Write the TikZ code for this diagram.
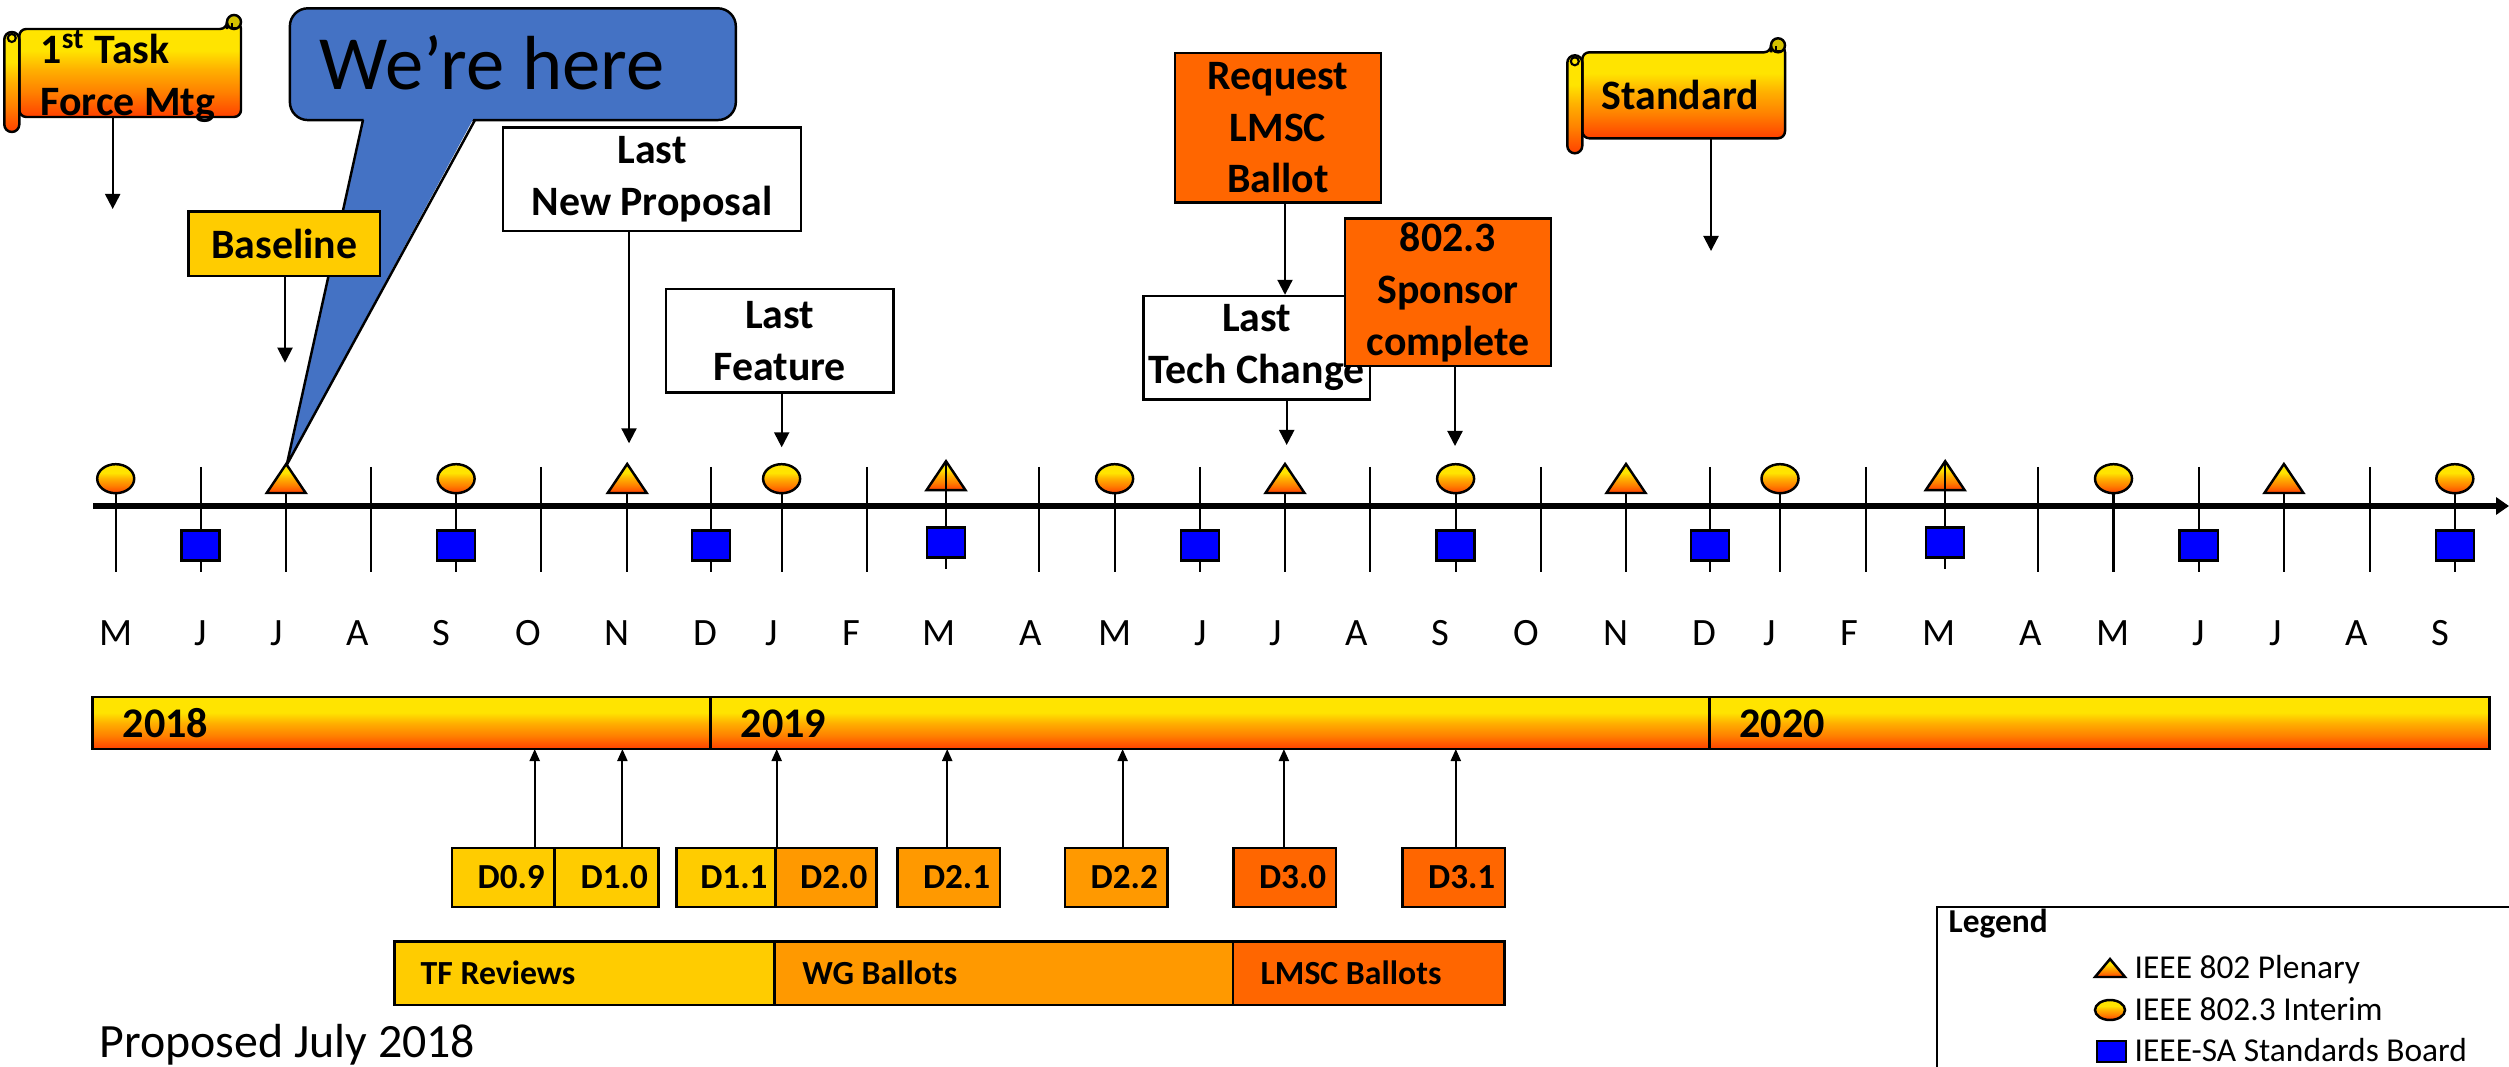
\documentclass[tikz,border=0pt]{standalone}
\usepackage{fontspec}
\setmainfont{Carlito}
\usetikzlibrary{arrows.meta}
\definecolor{gYel}{HTML}{FFE400}
\definecolor{gAmb}{HTML}{FFB000}
\definecolor{gOr}{HTML}{FF8000}
\definecolor{gRed}{HTML}{FF4000}
\definecolor{curlY}{HTML}{D4C200}
\definecolor{tfY}{HTML}{FFCC00}
\definecolor{wgO}{HTML}{FF9900}
\definecolor{lmO}{HTML}{FF6600}
\definecolor{callB}{HTML}{4472C4}
\definecolor{sabB}{HTML}{0000FF}
\pgfdeclareverticalshading{gold}{100bp}{color(0bp)=(gRed); color(25bp)=(gRed); color(38bp)=(gOr); color(50bp)=(gAmb); color(60bp)=(gYel); color(75bp)=(gYel); color(100bp)=(gYel)}
\newcommand\lblfnt{\fontsize{11.9pt}{14.7pt}\selectfont\bfseries}
\newcommand\herefnt{\fontsize{21.8pt}{26pt}\selectfont}
\newcommand\monfnt{\fontsize{11pt}{13pt}\selectfont}
\newcommand\yrfnt{\fontsize{12pt}{14pt}\selectfont\bfseries}
\newcommand\dfnt{\fontsize{10pt}{12pt}\selectfont\bfseries}
\newcommand\phfnt{\fontsize{9.6pt}{11pt}\selectfont\bfseries}
\newcommand\legfnt{\fontsize{9.5pt}{11pt}\selectfont}
\newcommand\propfnt{\fontsize{13.6pt}{16pt}\selectfont}
\newcommand\tlscroll[4]{%
  \path[shade, shading=gold, draw, line width=0.7pt, rounded corners=0.07cm]
    ({#1+15},#2) -- ({#3-14},#2) -- ({#3-14},{#2-7}) -- (#3,{#2-7}) -- (#3,#4) -- ({#1+15},#4) -- cycle;
  \draw[fill=curlY, line width=0.7pt] ({#3-7},{#2-7}) circle [radius=0.07cm];
  \draw[line width=0.5pt] ({#3-9},{#2-6}) -- ({#3-9},{#2-1}) -- ({#3-3},{#2-1});
  \draw[shade, shading=gold, line width=0.7pt, rounded corners=0.075cm] (#1,{#2+3}) rectangle ({#1+15},{#4+15});
  \draw[line width=0.6pt] ({#1+7.5},{#2+9}) circle [radius=0.04cm];
}
\begin{document}
\begin{tikzpicture}[x=0.01cm,y=-0.01cm,
  box/.style={draw, line width=0.7pt, inner sep=0pt, align=center, font=\lblfnt},
  dbox/.style={draw, line width=0.7pt, inner sep=0pt, minimum height=0.59cm, font=\dfnt},
  phase/.style={draw, line width=0.7pt, inner sep=0pt, minimum height=0.633cm},
  yearseg/.style={draw, line width=0.8pt, shade, shading=gold, inner sep=0pt, minimum height=0.52cm},
  arr/.style={-{Triangle[length=0.15cm,width=0.15cm]}, line width=0.6pt},
  arrs/.style={-{Triangle[length=0.12cm,width=0.1cm]}, line width=0.6pt},
  tick/.style={line width=0.6pt},
  mk/.style={line width=0.7pt},
  mon/.style={font=\monfnt, inner sep=0pt, anchor=base},
  txt/.style={inner sep=0pt, anchor=base west},
  plen/.pic={\draw[mk, shade, shading=gold] (-19.5,14.5) -- (0,-14.5) -- (19.5,14.5) -- cycle;},
  intr/.pic={\draw[mk, shade, shading=gold] (0,0) ellipse [x radius=0.185cm, y radius=0.145cm];},
  sab/.pic={\draw[mk, fill=sabB] (-19,-15) rectangle (19,15);}
]
\useasboundingbox (0,0) rectangle (2509,1067);
\fill[white] (0,0) rectangle (2509,1067);

% ---------- callout ----------
\node[draw, line width=0.7pt, fill=callB, rounded corners=0.18cm, minimum width=4.457cm, minimum height=1.117cm, inner sep=0pt] (callout) at (512.85,64.2) {};
\fill[callB] (364,117.5) -- (286.7,465) -- (474,117.5) -- cycle;
\draw[line width=0.7pt] (363,120) -- (286.7,465) -- (475,120);
\node[txt, font=\herefnt] (here) at (319,90) {We’re here};

% ---------- scrolls ----------
\tlscroll{4.3}{29}{241}{117}
\node[inner sep=0pt, minimum width=2.217cm, minimum height=0.88cm] (s1body) at (130.15,73) {};
\node[inner sep=0pt, anchor=west, align=left, font=\lblfnt] (s1) at (40,76) {1\textsuperscript{st} Task\\Force Mtg};

\tlscroll{1567.3}{52.3}{1785}{138.3}
\node[inner sep=0pt, minimum width=2.023cm, minimum height=0.86cm] (s2body) at (1683.85,95.3) {};
\node[inner sep=0pt, anchor=base, font=\lblfnt] (s2) at (1680.3,110) {Standard};

% ---------- milestone boxes ----------
\node[box, fill=tfY, minimum width=1.917cm, minimum height=0.643cm] (base) at (284.2,243.9) {Baseline};
\node[box, fill=white, minimum width=2.974cm, minimum height=1.037cm] (newprop) at (652,179.2) {Last\\New Proposal};
\node[box, fill=white, minimum width=2.273cm, minimum height=1.034cm] (feature) at (779.7,341) {Last\\Feature};
\node[box, fill=lmO, minimum width=2.057cm, minimum height=1.49cm] (request) at (1277.9,127.8) {Request\\LMSC\\Ballot};
\node[box, fill=white, minimum width=2.267cm, minimum height=1.033cm] (techchg) at (1256.7,347.7) {Last\\Tech Change};
\node[box, fill=lmO, minimum width=2.057cm, minimum height=1.477cm] (sponsor) at (1447.9,292.2) {802.3\\Sponsor\\complete};

% ---------- arrows from milestones ----------
\coordinate (t1) at (112.7,209);
\coordinate (t2) at (285,362.7);
\coordinate (t3) at (629,443.3);
\coordinate (t4) at (781.7,447.3);
\coordinate (t5) at (1285,0);
\coordinate (t6) at (1286.7,445);
\coordinate (t7) at (1455,446);
\coordinate (t8) at (1711,251);
\draw[arr] (s1body.south -| t1) -- (t1);
\draw[arr] (base.south -| t2) -- (t2);
\draw[arr] (newprop.south -| t3) -- (t3);
\draw[arr] (feature.south -| t4) -- (t4);
\draw[arr] (request.south -| t5) -- (techchg.north -| t5);
\draw[arr] (techchg.south -| t6) -- (t6);
\draw[arr] (sponsor.south -| t7) -- (t7);
\draw[arr] (s2body.south -| t8) -- (t8);

% ---------- time axis ----------
\coordinate (axs) at (93,506);
\coordinate (axe) at (2509,506);
\foreach \t in {115.7,200.6,286.2,371.1,456.1,541.1,627.2,711,781.6,867.1,1039,1114.6,1199.8,1285,1369.8,1455.6,1540.8,1626,1709.8,1780,1865.7,2038.2,2113.5,2198.7,2283.9,2369.6,2454.8}
  \draw[tick] (\t,467) -- (\t,572);
\draw[line width=1.56pt, -{Triangle[length=0.13cm,width=0.17cm]}] (axs) -- (axe);
% interim
\foreach \t in {115.7,456.1,781.6,1114.6,1455.6,1780,2113.5,2454.8}
  \pic at (\t,478.7) {intr};
% plenary
\foreach \t in {286.2,627.2,1285,1626,2283.9}
  \pic at (\t,478.5) {plen};
% standards board
\foreach \t in {200.6,456.1,711,1199.8,1455.6,1709.8,2198.7,2454.8}
  \pic at (\t,545.5) {sab};
% March meetings
\foreach \t in {946,1945.2}{
  \pic at (\t,475.7) {plen};
  \draw[tick] (\t,460.7) -- (\t,569);
  \pic at (\t,542.7) {sab};
}
% month letters
\foreach \x/\m [count=\i] in {115.7/M,200.6/J,277/J,357.4/A,441.7/S,527.9/O,616.8/N,705.2/D,771.8/J,851/F,939/M,1031/A,1114.6/M,1200.9/J,1275.6/J,1356.7/A,1440.4/S,1526.7/O,1615.6/N,1704.5/D,1769.7/J,1849.7/F,1939/M,2030.4/A,2113.5/M,2198.7/J,2275.6/J,2356.7/A,2440.8/S}
  \node[mon] (m\i) at (\x,645) {\m};

% ---------- year bar ----------
\node[yearseg, minimum width=6.18cm] (yr18) at (402,723) {};
\node[yearseg, minimum width=9.985cm] (yr19) at (1210.25,723) {};
\node[yearseg, minimum width=7.795cm] (yr20) at (2099.25,723) {};
\node[txt, font=\yrfnt] (y18) at (122,737.3) {2018};
\node[txt, font=\yrfnt] (y19) at (740,737.3) {2019};
\node[txt, font=\yrfnt] (y20) at (1738.7,737.3) {2020};

% ---------- drafts ----------
\node[dbox, fill=tfY, minimum width=1.023cm] (d09) at (503.2,877.5) {\hspace*{0.16cm}D0.9};
\node[dbox, fill=tfY, minimum width=1.039cm] (d10) at (606.3,877.5) {\hspace*{0.16cm}D1.0};
\node[dbox, fill=tfY, minimum width=0.989cm] (d11) at (725.9,877.5) {\hspace*{0.16cm}D1.1};
\node[dbox, fill=wgO, minimum width=1.01cm] (d20) at (825.8,877.5) {\hspace*{0.16cm}D2.0};
\node[dbox, fill=wgO, minimum width=1.024cm] (d21) at (948.6,877.5) {\hspace*{0.16cm}D2.1};
\node[dbox, fill=wgO, minimum width=1.025cm] (d22) at (1116.3,877.5) {\hspace*{0.16cm}D2.2};
\node[dbox, fill=lmO, minimum width=1.024cm] (d30) at (1284.6,877.5) {\hspace*{0.16cm}D3.0};
\node[dbox, fill=lmO, minimum width=1.024cm] (d31) at (1453.7,877.5) {\hspace*{0.16cm}D3.1};
\coordinate (a1) at (534.7,749);
\coordinate (a2) at (622.4,749);
\coordinate (a3) at (776.7,749);
\coordinate (a4) at (947.2,749);
\coordinate (a5) at (1122.6,749);
\coordinate (a6) at (1283.9,749);
\coordinate (a7) at (1455.8,749);
\draw[arrs] (d09.north -| a1) -- (a1);
\draw[arrs] (d10.north -| a2) -- (a2);
\draw[arrs] (d11.north -| a3) -- (a3);
\draw[arrs] (d21.north -| a4) -- (a4);
\draw[arrs] (d22.north -| a5) -- (a5);
\draw[arrs] (d30.north -| a6) -- (a6);
\draw[arrs] (d31.north -| a7) -- (a7);

% ---------- ballot phases ----------
\node[phase, fill=tfY, minimum width=3.799cm] (tf) at (584.65,973.35) {};
\node[phase, fill=wgO, minimum width=4.584cm] (wg) at (1003.8,973.35) {};
\node[phase, fill=lmO, minimum width=2.713cm] (lm) at (1368.65,973.35) {};
\node[txt, font=\phfnt] (tft) at (420,984) {TF Reviews};
\node[txt, font=\phfnt] (wgt) at (801.7,984) {WG Ballots};
\node[txt, font=\phfnt] (lmt) at (1260,984) {LMSC Ballots};

\node[txt, font=\propfnt] (prop) at (99,1057) {Proposed July 2018};

% ---------- legend ----------
\node[draw, line width=0.7pt, anchor=north west, minimum width=6cm, minimum height=2cm, inner sep=0pt] (legend) at (1936,906) {};
\node[txt, font=\legfnt\bfseries] (legt) at (1948,932) {Legend};
\draw[mk, shade, shading=gold] (2095,977) -- (2110,959) -- (2125,977) -- cycle;
\node[txt, font=\legfnt] (l1) at (2134,978) {IEEE 802 Plenary};
\draw[mk, shade, shading=gold] (2110,1010) ellipse [x radius=0.15cm, y radius=0.1cm];
\node[txt, font=\legfnt] (l2) at (2134,1020) {IEEE 802.3 Interim};
\draw[mk, fill=sabB] (2097,1041) rectangle (2126,1062);
\node[txt, font=\legfnt] (l3) at (2134,1061) {IEEE-SA Standards Board};
\end{tikzpicture}
\end{document}
